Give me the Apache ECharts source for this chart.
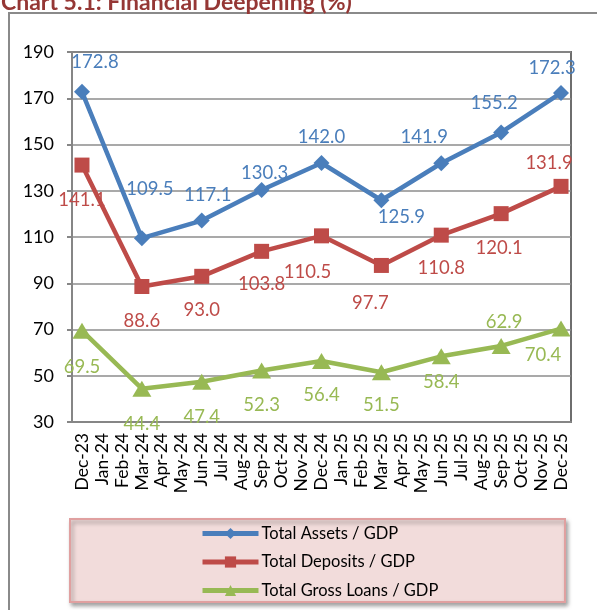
<!DOCTYPE html>
<html>
<head>
<meta charset="utf-8">
<script src="https://cdn.jsdelivr.net/npm/echarts@6/dist/echarts.min.js"></script>
<style>
  html, body { margin: 0; padding: 0; background: #fff; }
  #main { width: 597px; height: 610px; }
</style>
</head>
<body>
<div id="main"></div>
<script>
// months on the x axis, values only at quarter ends
var months = ["Dec-23", "Jan-24", "Feb-24", "Mar-24", "Apr-24", "May-24", "Jun-24", "Jul-24",
  "Aug-24", "Sep-24", "Oct-24", "Nov-24", "Dec-24", "Jan-25", "Feb-25", "Mar-25", "Apr-25",
  "May-25", "Jun-25", "Jul-25", "Aug-25", "Sep-25", "Oct-25", "Nov-25", "Dec-25"];
var quarterIdx = [0, 3, 6, 9, 12, 15, 18, 21, 24];
var assets = [172.8, 109.5, 117.1, 130.3, 142.0, 125.9, 141.9, 155.2, 172.3];
var deposits = [141.1, 88.6, 93.0, 103.8, 110.5, 97.7, 110.8, 120.1, 131.9];
var loans = [69.5, 44.4, 47.4, 52.3, 56.4, 51.5, 58.4, 62.9, 70.4];
var yTicks = { min: 30, max: 190, step: 20 };

// label nudges (px) so the labels sit like the original
var assetsOff = [[13, -30], [8, -49], [6, -26], [3, -17], [0, -26], [20, 17], [-17, -26], [-7, -29], [-9, -25]];
var depositsOff = [[0, 35], [0, 35], [0, 34], [0, 33], [-14, 36], [-11, 38], [0, 33], [-2, 34], [-12, -23]];
var loansOff = [[0, 36], [0, 35], [0, 35], [0, 35], [0, 34], [0, 33], [0, 26], [3, -24], [-18, 26]];

var font = "Lato, 'Liberation Sans', sans-serif";

function toMonthly(vals, offs) {
  var out = months.map(function () { return null; });
  quarterIdx.forEach(function (m, i) {
    out[m] = { value: vals[i], label: { offset: offs[i] } };
  });
  return out;
}

function makeSeries(name, vals, offs, color, symbol, size) {
  return {
    name: name,
    type: "line",
    data: toMonthly(vals, offs),
    connectNulls: true,
    symbol: symbol,
    symbolSize: size,
    lineStyle: { color: color, width: 4.5 },
    itemStyle: { color: color },
    label: {
      show: true,
      position: "inside",
      color: color,
      fontFamily: font,
      fontSize: 18.5,
      formatter: function (p) { return p.value.toFixed(1); }
    }
  };
}

var myChart = echarts.init(document.getElementById("main"));
myChart.setOption({
  animation: false,
  title: {
    text: "Chart 5.1: Financial Deepening (%)",
    left: -4,
    top: -14,
    textStyle: { color: "#953735", fontFamily: font, fontWeight: "bold", fontSize: 23 }
  },
  graphic: [
    {
      type: "rect",
      shape: { x: 9, y: 13, width: 800, height: 800 },
      style: { fill: "none", stroke: "#8a8a8a", lineWidth: 2 },
      silent: true
    },
    {
      type: "rect",
      shape: { x: 70, y: 519, width: 495, height: 83 },
      style: {
        fill: "#f2dcdb", stroke: "#e0a0a0", lineWidth: 2,
        shadowBlur: 4, shadowOffsetX: 2, shadowOffsetY: 3, shadowColor: "rgba(0,0,0,0.35)"
      },
      z: -1,
      silent: true
    }
  ],
  grid: { left: 72, right: 26, top: 52, bottom: 188, show: true, borderColor: "#6e6e6e", borderWidth: 2 },
  legend: {
    orient: "vertical",
    left: 200,
    top: 525,
    height: 84,
    padding: 0,
    itemWidth: 56,
    itemHeight: 14,
    itemGap: 11.5,
    lineStyle: { width: 5 },
    textStyle: { fontFamily: font, fontSize: 16.5, color: "#000", padding: [0, 0, 0, -2] },
    data: ["Total Assets / GDP", "Total Deposits / GDP", "Total Gross Loans / GDP"]
  },
  xAxis: {
    type: "category",
    data: months,
    boundaryGap: true,
    axisLine: { lineStyle: { color: "#868686", width: 2 } },
    axisTick: { show: false },
    axisLabel: { rotate: 90, interval: 0, margin: 11, fontFamily: font, fontSize: 17.5, color: "#000" }
  },
  yAxis: {
    type: "value",
    min: yTicks.min,
    max: yTicks.max,
    interval: yTicks.step,
    axisLine: { show: true, lineStyle: { color: "#868686", width: 2 } },
    axisTick: { show: true, length: 5, lineStyle: { color: "#868686", width: 2 } },
    splitLine: { lineStyle: { color: "#8c8c8c", width: 1.5 } },
    axisLabel: { margin: 18, fontFamily: font, fontSize: 18, color: "#000" }
  },
  series: [
    makeSeries("Total Assets / GDP", assets, assetsOff, "#4a7ebb", "diamond", 16),
    makeSeries("Total Deposits / GDP", deposits, depositsOff, "#be4b48", "rect", 15),
    makeSeries("Total Gross Loans / GDP", loans, loansOff, "#98b954", "triangle", [19, 16])
  ]
});
</script>
</body>
</html>
